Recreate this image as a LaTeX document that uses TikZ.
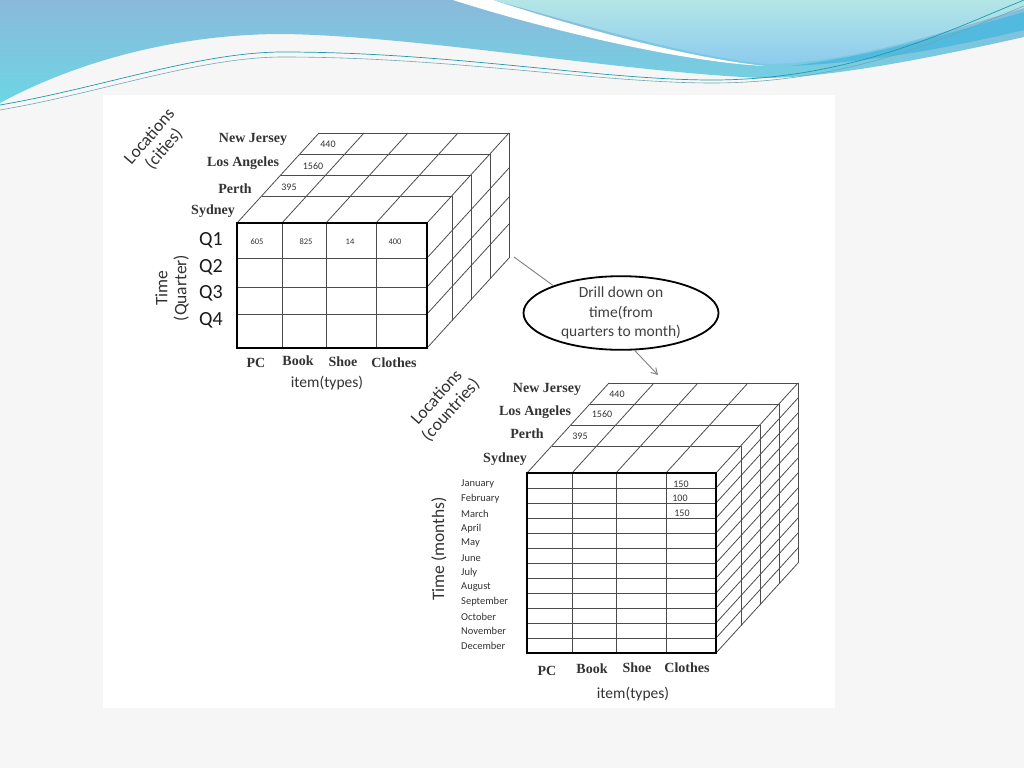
\documentclass[tikz,border=0pt]{standalone}
\usepackage{fontspec}
\setmainfont{Liberation Serif}
\newfontfamily\carlito{Carlito}
\usetikzlibrary{shapes.geometric, arrows.meta}
\definecolor{pagebg}{HTML}{F6F6F6}
\definecolor{bannertop}{HTML}{8BB9DB}
\definecolor{bannerlow}{HTML}{6CD6E4}
\definecolor{skytop}{HTML}{B4E6E6}
\definecolor{skylow}{HTML}{8CCBEE}
\definecolor{bandblue}{HTML}{52BADF}
\definecolor{wavelineA}{HTML}{1F9AA8}
\definecolor{wavelineB}{HTML}{6FA8B4}
\tikzset{
  cubeline/.style={draw=black!70, line width=0.8pt},
  frontface/.style={draw=black, line width=1.6pt},
  catlab/.style={font=\bfseries\fontsize{14}{14}\selectfont, text=black!80, inner sep=0pt},
  qlab/.style={font=\carlito\fontsize{20}{20}\selectfont, text=black!90, inner sep=0pt},
  axislab/.style={font=\carlito\fontsize{17.5}{19}\selectfont, text=black!80, align=center, inner sep=0pt},
  itemlab/.style={font=\carlito\fontsize{15.5}{16}\selectfont, text=black!80, inner sep=0pt},
  numlab/.style={font=\carlito\fontsize{8.5}{9}\selectfont, text=black!80, inner sep=0pt},
  toplab/.style={font=\carlito\fontsize{10}{10}\selectfont, text=black!80, inner sep=0pt},
  monthlab/.style={font=\carlito\fontsize{10.5}{11}\selectfont, text=black!80, anchor=west, inner sep=0pt},
  drillbox/.style={ellipse, draw=black, line width=1.8pt, minimum width=195pt, minimum height=69pt,
    inner sep=0pt, align=center, font=\carlito\fontsize{15.5}{19.4}\selectfont, text=black!75},
  flow/.style={draw=black!50, line width=0.9pt},
}
\begin{document}
\begin{tikzpicture}[x=1pt, y=-1pt]
  \useasboundingbox (0,0) rectangle (1024,768);
  \fill[pagebg] (0,0) rectangle (1024,768);

  % banner
  \shade[top color=bannertop, bottom color=bannerlow] (0,0) -- (1024,0) -- (1024,37)
    .. controls (930,58) and (830,78) .. (762,78)
    .. controls (620,72) and (420,36) .. (283,34)
    .. controls (170,34) and (70,65) .. (0,103) -- cycle;
  \shade[top color=skytop, bottom color=skylow] (493,0)
    .. controls (560,18) and (680,55) .. (765,64)
    .. controls (850,64) and (950,30) .. (1024,8) -- (1024,0) -- cycle;
  \fill[white] (453,0) .. controls (540,28) and (680,62) .. (765,66)
    .. controls (680,57) and (560,22) .. (493,0) -- cycle;
  \fill[bandblue] (790,66) .. controls (880,55) and (960,30) .. (1024,12) -- (1024,30)
    .. controls (960,45) and (880,62) .. (790,66) -- cycle;
  \draw[wavelineA, line width=0.7pt] (0,105) .. controls (100,88) and (200,52) .. (283,52)
    .. controls (450,52) and (600,80) .. (712,80) .. controls (850,80) and (950,30) .. (1024,0);
  \draw[wavelineB, line width=0.6pt] (0,110) .. controls (100,93) and (200,57) .. (283,57)
    .. controls (450,57) and (600,83) .. (712,83) .. controls (850,83) and (950,36) .. (1024,6);

  % pasted picture
  \fill[white] (103,95) rectangle (835,708);

  % cube of quarters
  \foreach \dx/\dy in {25/-27, 44/-48, 63/-69, 82/-90}
    \draw[cubeline] (237+\dx,223+\dy) -- (427+\dx,223+\dy) -- (427+\dx,348+\dy);
  \foreach \x in {237,282,326,376,427}
    \draw[cubeline] (\x,223) -- (\x+82,223-90);
  \foreach \y in {258,287,314,348}
    \draw[cubeline] (427,\y) -- (427+82,\y-90);
  \foreach \y in {258,287,314}
    \draw[cubeline] (237,\y) -- (427,\y);
  \foreach \x in {282,326,376}
    \draw[cubeline] (\x,223) -- (\x,348);
  \draw[frontface] (237,223) rectangle (427,348);

  \node[catlab] (nj1) at (253,139) {New Jersey};
  \node[catlab] (la1) at (243,163) {Los Angeles};
  \node[catlab] (perth1) at (235,189) {Perth};
  \node[catlab] (syd1) at (213,211) {Sydney};
  \node[qlab] (q1) at (211,240) {Q1};
  \node[qlab] (q2) at (211,267) {Q2};
  \node[qlab] (q3) at (211,293) {Q3};
  \node[qlab] (q4) at (211,320) {Q4};
  \node[axislab, rotate=90] (time1) at (172,288) {Time\\(Quarter)};
  \node[axislab, rotate=49] (loc1) at (157,143) {Locations\\(cities)};
  \node[numlab] (v605) at (257,242) {605};
  \node[numlab] (v825) at (306,242) {825};
  \node[numlab] (v14) at (350,242) {14};
  \node[numlab] (v400) at (395,242) {400};
  \node[toplab] (v440) at (328,144) {440};
  \node[toplab] (v1560) at (313,166) {1560};
  \node[toplab] (v395) at (289,187) {395};
  \node[catlab] (pc1) at (256,363) {PC};
  \node[catlab] (book1) at (298,361) {Book};
  \node[catlab] (shoe1) at (343,362) {Shoe};
  \node[catlab] (clothes1) at (394,363) {Clothes};
  \node[itemlab] (item1) at (327,383) {item(types)};

  % drill down
  \node[drillbox] (drill) at (621,313) {Drill down on\\time(from\\quarters to month)};
  \coordinate (cubecorner) at (514,257);
  \coordinate (monthcube) at (658,375);
  \draw[flow] (cubecorner) -- (drill.158);
  \draw[flow, -{Straight Barb[length=6pt, width=7pt]}] (drill.-70) -- (monthcube);

  % cube of months
  \foreach \dx/\dy in {25/-27, 44/-48, 63/-69, 82/-90}
    \draw[cubeline] (527+\dx,473+\dy) -- (716+\dx,473+\dy) -- (716+\dx,653+\dy);
  \foreach \x in {527,572,616,666,716}
    \draw[cubeline] (\x,473) -- (\x+82,473-90);
  \foreach \k in {1,...,12}
    \draw[cubeline] (716,473+15*\k) -- (716+82,473+15*\k-90);
  \foreach \k in {1,...,11}
    \draw[cubeline] (527,473+15*\k) -- (716,473+15*\k);
  \foreach \x in {572,616,666}
    \draw[cubeline] (\x,473) -- (\x,653);
  \draw[frontface] (527,473) rectangle (716,653);

  \node[catlab] (nj2) at (547,389) {New Jersey};
  \node[catlab] (la2) at (535,412) {Los Angeles};
  \node[catlab] (perth2) at (527,434) {Perth};
  \node[catlab] (syd2) at (505,459) {Sydney};
  \node[toplab] (w440) at (617,394) {440};
  \node[toplab] (w1560) at (602,414) {1560};
  \node[toplab] (w395) at (580,436) {395};
  \node[toplab] (w150a) at (681,484) {150};
  \node[toplab] (w100) at (680,498) {100};
  \node[toplab] (w150b) at (682,513) {150};
  \foreach \m [count=\i from 0] in {January,February,March,April,May,June,July,August,September,October,November,December}
    \node[monthlab] (m\i) at (461,484.3+14.7*\i) {\m};
  \node[axislab, rotate=90] (time2) at (439,549) {Time (months)};
  \node[axislab, rotate=48] (loc2) at (444,404) {Locations\\(countries)};
  \node[catlab] (pc2) at (547,671) {PC};
  \node[catlab] (book2) at (592,669) {Book};
  \node[catlab] (shoe2) at (637,668) {Shoe};
  \node[catlab] (clothes2) at (687,668) {Clothes};
  \node[itemlab] (item2) at (633,694) {item(types)};
\end{tikzpicture}
\end{document}
